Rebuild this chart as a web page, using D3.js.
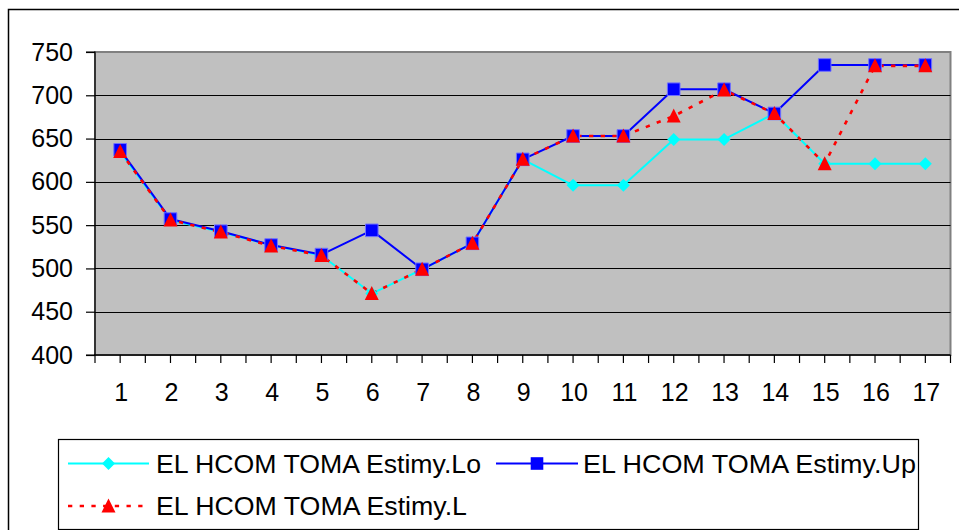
<!DOCTYPE html>
<html><head><meta charset="utf-8">
<script src="https://cdn.jsdelivr.net/npm/d3@7"></script>
<style>html,body{margin:0;padding:0;background:#fff;}svg{display:block;font-family:"Liberation Sans",Arial,sans-serif;}</style>
</head><body>
<svg id="chart" width="959" height="530"></svg>
<script>
const categories = ["1","2","3","4","5","6","7","8","9","10","11","12","13","14","15","16","17"];
const seriesNames = ["EL HCOM TOMA Estimy.Lo","EL HCOM TOMA Estimy.Up","EL HCOM TOMA Estimy.L"];
const loValues = [635,556,542,527,515,471,499,529,626,596,596,649,649,679,621,621,621];
const upValues = [637,557,543,527,516,544,499,529,626,653,653,707,707,679,735,735,735];
const lValues  = [635,556,542,526,515,471,499,529,626,653,653,676,706,679,621,734,734];
const yTicks = [400,450,500,550,600,650,700,750];

const svg = d3.select("#chart");
const P = {left:95, right:950.5, top:52, bottom:355};

// outer chart border
svg.append("rect").attr("x",8.5).attr("y",9.5).attr("width",970).attr("height",540)
  .attr("fill","#fff").attr("stroke","#000").attr("stroke-width",1.5);

const x = d3.scaleBand().domain(categories).range([P.left,P.right]).paddingInner(0).paddingOuter(0);
const y = d3.scaleLinear().domain([400,750]).range([P.bottom,P.top]);
const cx = c => x(c) + x.bandwidth()/2;

// plot background
svg.append("rect").attr("x",P.left).attr("y",P.top).attr("width",P.right-P.left).attr("height",P.bottom-P.top)
  .attr("fill","#C0C0C0").attr("stroke","#808080").attr("stroke-width",2);

// gridlines
svg.append("g").selectAll("line").data(yTicks.filter(v=>v>400 && v<750)).join("line")
  .attr("x1",P.left).attr("x2",P.right).attr("y1",d=>Math.round(y(d))+0.5).attr("y2",d=>Math.round(y(d))+0.5)
  .attr("stroke","#000").attr("stroke-width",1.2);

// y axis
const yAxis = d3.axisLeft(y).tickValues(yTicks).tickSize(9).tickPadding(13).tickFormat(d3.format("d"));
const gy = svg.append("g").attr("transform",`translate(${P.left},0)`).call(yAxis);
gy.select(".domain").attr("stroke","#000").attr("stroke-width",1.2).attr("d",`M-9,${P.top}H0V${P.bottom}H-9`);
gy.selectAll(".tick line").attr("stroke","#000").attr("stroke-width",1.2);
gy.selectAll(".tick text").attr("font-size",25).attr("font-family","Liberation Sans, Arial, sans-serif").attr("fill","#000");

// x axis: ticks at boundaries and centers
const halfTicks = [];
categories.forEach(c=>{halfTicks.push(x(c)); halfTicks.push(cx(c));});
halfTicks.push(P.right);
const gx = svg.append("g");
gx.append("line").attr("x1",P.left-1).attr("x2",P.right).attr("y1",P.bottom).attr("y2",P.bottom).attr("stroke","#000").attr("stroke-width",1.5);
gx.selectAll("line.t").data(halfTicks).join("line").attr("class","t")
  .attr("x1",d=>d).attr("x2",d=>d).attr("y1",P.bottom).attr("y2",P.bottom+8).attr("stroke","#000").attr("stroke-width",1.2);
gx.selectAll("text").data(categories).join("text")
  .attr("x",d=>cx(d)+1).attr("y",392).attr("dominant-baseline","central").attr("text-anchor","middle")
  .attr("font-size",25).attr("fill","#000").text(d=>d);

// markers
const diamond = (s)=>`M0,${-s}L${s},0L0,${s}L${-s},0Z`;
const square = (s)=>`M${-s},${-s}H${s}V${s}H${-s}Z`;
const tri = (w,h)=>`M0,${-h/2-1}L${w/2},${h/2}L${-w/2},${h/2}Z`;

const series = [
  {name:seriesNames[0], values:loValues, color:"#00FFFF", width:2, dash:null, marker:diamond(6.5), mstroke:null},
  {name:seriesNames[1], values:upValues, color:"#0000FF", width:2, dash:null, marker:square(6.3), mstroke:"#7070ff"},
  {name:seriesNames[2], values:lValues,  color:"#FF0000", width:2.6, dash:"4.3,7.4", marker:tri(14,13), mstroke:null}
];

const line = d3.line().x((d,i)=>cx(categories[i])).y(d=>y(d));
series.forEach(s=>{
  svg.append("path").datum(s.values).attr("d",line).attr("fill","none")
    .attr("stroke",s.color).attr("stroke-width",s.width).attr("stroke-dasharray",s.dash)
    .attr("stroke-linejoin","round");
});
series.forEach(s=>{
  svg.append("g").selectAll("path").data(s.values).join("path")
    .attr("transform",(d,i)=>`translate(${cx(categories[i])},${y(d)})`)
    .attr("d",s.marker).attr("fill",s.color)
    .attr("stroke",s.mstroke||"none").attr("stroke-width",s.mstroke?1:0);
});

// legend
svg.append("rect").attr("x",58.5).attr("y",439.5).attr("width",860).attr("height",90)
  .attr("fill","#fff").attr("stroke","#000").attr("stroke-width",1.2);
const legendPos = [
  {lx1:68, lx2:149, mx:108.5, tx:156, y:463.5, tl:325},
  {lx1:496, lx2:578, mx:537, tx:583, y:463.5, tl:333},
  {lx1:68, lx2:149, mx:108.5, tx:156, y:506, tl:311}
];
series.forEach((s,i)=>{
  const p = legendPos[i];
  const g = svg.append("g");
  g.append("line").attr("x1",p.lx1).attr("x2",p.lx2).attr("y1",p.y).attr("y2",p.y)
    .attr("stroke",s.color).attr("stroke-width",s.width).attr("stroke-dasharray",s.dash);
  g.append("path").attr("transform",`translate(${p.mx},${p.y})`).attr("d",s.marker).attr("fill",s.color);
  g.append("text").attr("x",p.tx).attr("y",p.y).attr("dominant-baseline","central")
    .attr("font-size",26).attr("fill","#000")
    .attr("textLength",p.tl).attr("lengthAdjust","spacingAndGlyphs").text(s.name);
});
</script>
</body></html>
